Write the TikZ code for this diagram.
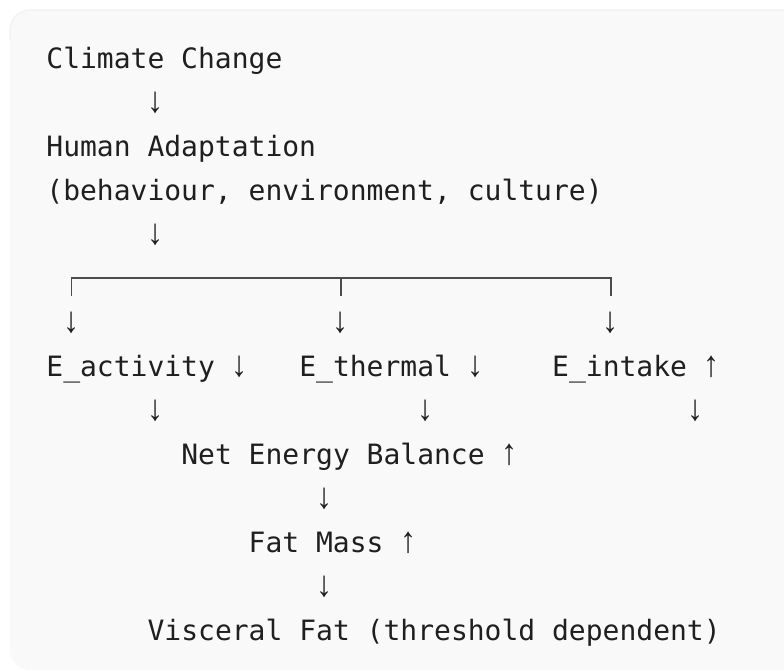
\documentclass[tikz,border=0pt]{standalone}
\usepackage{fontspec}
\usepackage{xcolor}
\setmonofont{DejaVu Sans Mono}
\newfontfamily\arrowfont{Liberation Sans}
\newcommand{\dn}{\scalebox{1.15}[1.3]{\arrowfont\bfseries ↓}}
\newcommand{\up}{\scalebox{1.15}[1.3]{\arrowfont\bfseries ↑}}
\definecolor{panelbg}{HTML}{F9F9F9}
\definecolor{panelrim}{HTML}{F1F1F1}
\definecolor{ink}{HTML}{1F1F1F}
\tikzset{
    txt/.style={anchor=base west, inner sep=0pt, text=ink,
        font=\ttfamily\fontsize{14}{22}\selectfont},
    arr/.style={txt, anchor=base},
    bracket/.style={draw=ink!80, line width=0.8pt}
}

\begin{document}
\begin{tikzpicture}[x=0.5pt, y=-0.5pt]
\useasboundingbox (0,0) rectangle (784,670);
\clip (0,0) rectangle (784,670);

% Panel
\fill[panelbg, rounded corners=10pt] (10,10) rectangle (830,670);
\draw[panelrim, line width=0.6pt, rounded corners=10pt] (10,40) -- (10,10) -- (830,10);

% Top of the chain
\node[txt] (climate) at (46,68) {Climate Change};
\node[arr] (arrA) at (155.6,112) {\dn};
\node[txt] (human) at (46,156) {Human Adaptation};
\node[txt] (behav) at (46,200) {(behaviour, environment, culture)};
\node[arr] (arrB) at (155.6,244) {\dn};

% Split bracket
\coordinate (brL) at (71.3,278);
\coordinate (brM) at (341,278);
\coordinate (brR) at (610.8,278);
\draw[bracket] ([yshift=-9pt]brL) -- (brL) -- (brR) -- ([yshift=-9pt]brR);
\draw[bracket] (brM) -- ([yshift=-9pt]brM);

% Three branches
\node[arr] (arrL) at (71.3,332) {\dn};
\node[arr] (arrM) at (341,332) {\dn};
\node[arr] (arrR) at (610.8,332) {\dn};

\node[txt] (activity) at (46,376) {E\_activity \dn};
\node[txt] (thermal) at (298.9,376) {E\_thermal \dn};
\node[txt] (intake) at (551.8,376) {E\_intake \up};

\node[arr] (arrLL) at (155.6,420) {\dn};
\node[arr] (arrMM) at (425.3,420) {\dn};
\node[arr] (arrRR) at (695.1,420) {\dn};

% Bottom of the chain
\node[txt] (balance) at (180.9,464) {Net Energy Balance \up};
\node[arr] (arrC) at (324.2,508) {\dn};
\node[txt] (fatmass) at (248.3,552) {Fat Mass \up};
\node[arr] (arrD) at (324.2,596) {\dn};
\node[txt] (visceral) at (147.2,640) {Visceral Fat (threshold dependent)};

\end{tikzpicture}
\end{document}
